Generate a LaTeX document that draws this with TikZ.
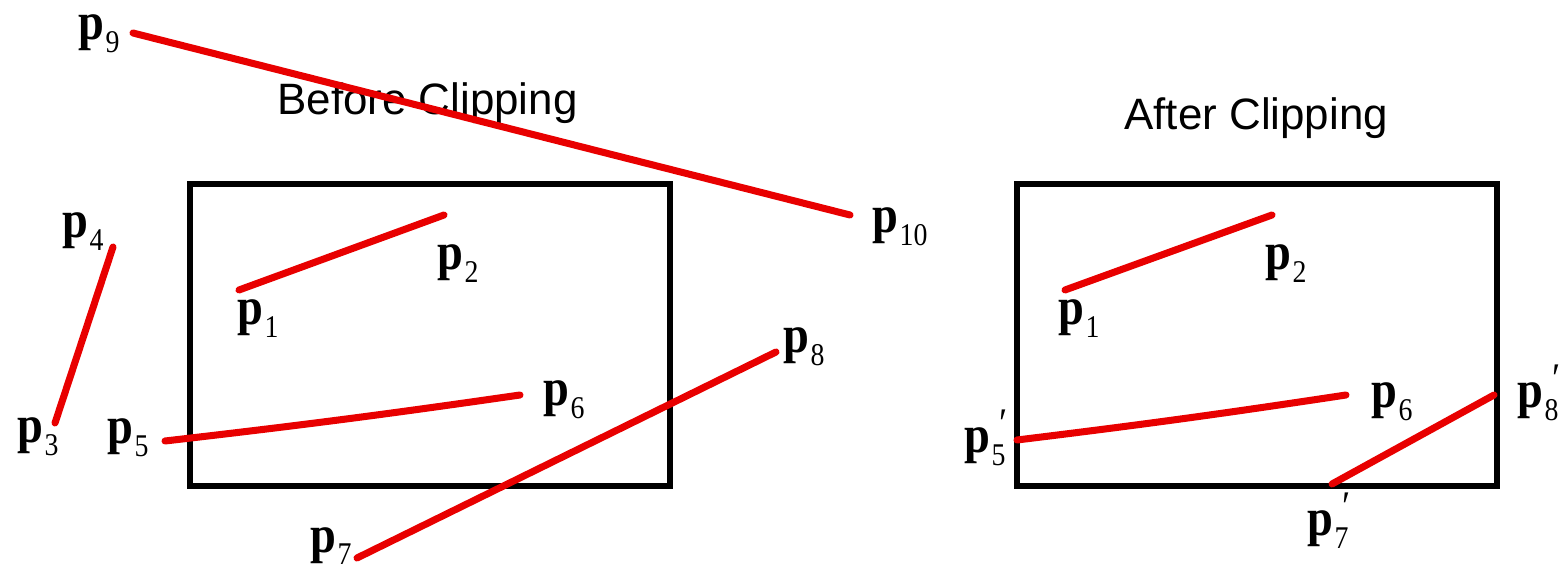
\documentclass[tikz,border=0pt]{standalone}
\usepackage{fontspec}
\setmainfont{Liberation Serif}
\newfontfamily\labelfont[FakeStretch=0.88]{Liberation Serif}
\newfontfamily\titlefont{Liberation Sans}
\definecolor{segred}{RGB}{232,0,0}
\newcommand{\pl}[1]{\textbf{p}\kern0.03em\raisebox{-0.24em}{\fontsize{18}{18}\selectfont #1}}
\newcommand{\ppl}[1]{\textbf{p}\kern0.03em\makebox[0pt][l]{\kern0.14em\raisebox{0.3em}{\fontsize{24}{24}\selectfont ′}}\raisebox{-0.24em}{\fontsize{18}{18}\selectfont #1}}
\tikzset{
  seg/.style={draw=segred, line width=4pt, line cap=round},
  clipbox/.style={draw=black, line width=3.4pt, line join=miter},
  plabel/.style={anchor=base west, inner sep=0pt, font=\labelfont\fontsize{30}{30}\selectfont},
  title/.style={anchor=base west, inner sep=0pt, font=\titlefont\fontsize{25}{25}\selectfont}
}
\begin{document}
\begin{tikzpicture}[x=0.02cm, y=-0.02cm]
\useasboundingbox (0,0) rectangle (1565,570);
% titles
\node[title] (tb) at (277,115) {Before Clipping};
\node[title] (ta) at (1124,130) {After Clipping};
% boxes
\draw[clipbox] (190,184) rectangle (670,486);
\draw[clipbox] (1017,184) rectangle (1497,486);
% endpoints (before)
\coordinate (a9) at (133,33);
\coordinate (a10) at (850,215);
\coordinate (a4) at (113,247);
\coordinate (a3) at (55,423);
\coordinate (a1) at (239,290);
\coordinate (a2) at (444,215);
\coordinate (a5) at (165,441);
\coordinate (a6) at (520,395);
\coordinate (a7) at (357,558);
\coordinate (a8) at (776,352);
% endpoints (after)
\coordinate (b1) at (1065,290);
\coordinate (b2) at (1272,215);
\coordinate (b5) at (1017,440);
\coordinate (b6) at (1346,395);
\coordinate (b7) at (1332,484);
\coordinate (b8) at (1494,395);
% segments
\draw[seg] (a9) -- (a10);
\draw[seg] (a4) -- (a3);
\draw[seg] (a1) -- (a2);
\draw[seg] (a5) to[bend right=0.8] (a6);
\draw[seg] (a7) -- (a8);
\draw[seg] (b1) -- (b2);
\draw[seg] (b5) to[bend right=0.8] (b6);
\draw[seg] (b7) -- (b8);
% labels (before)
\node[plabel] (l9) at (78,40) {\pl{9}};
\node[plabel] (l10) at (872,233) {\pl{10}};
\node[plabel] (l4) at (62,238) {\pl{4}};
\node[plabel] (l3) at (17,443) {\pl{3}};
\node[plabel] (l5) at (107,444) {\pl{5}};
\node[plabel] (l1) at (237,325) {\pl{1}};
\node[plabel] (l2) at (437,270) {\pl{2}};
\node[plabel] (l6) at (543,406) {\pl{6}};
\node[plabel] (l7) at (310,552) {\pl{7}};
\node[plabel] (l8) at (783,353) {\pl{8}};
% labels (after)
\node[plabel] (m1) at (1058,325) {\pl{1}};
\node[plabel] (m2) at (1265,270) {\pl{2}};
\node[plabel] (m6) at (1371,408) {\pl{6}};
\node[plabel] (m5) at (964,453) {\ppl{5}};
\node[plabel] (m7) at (1307,536) {\ppl{7}};
\node[plabel] (m8) at (1517,408) {\ppl{8}};
\end{tikzpicture}
\end{document}
